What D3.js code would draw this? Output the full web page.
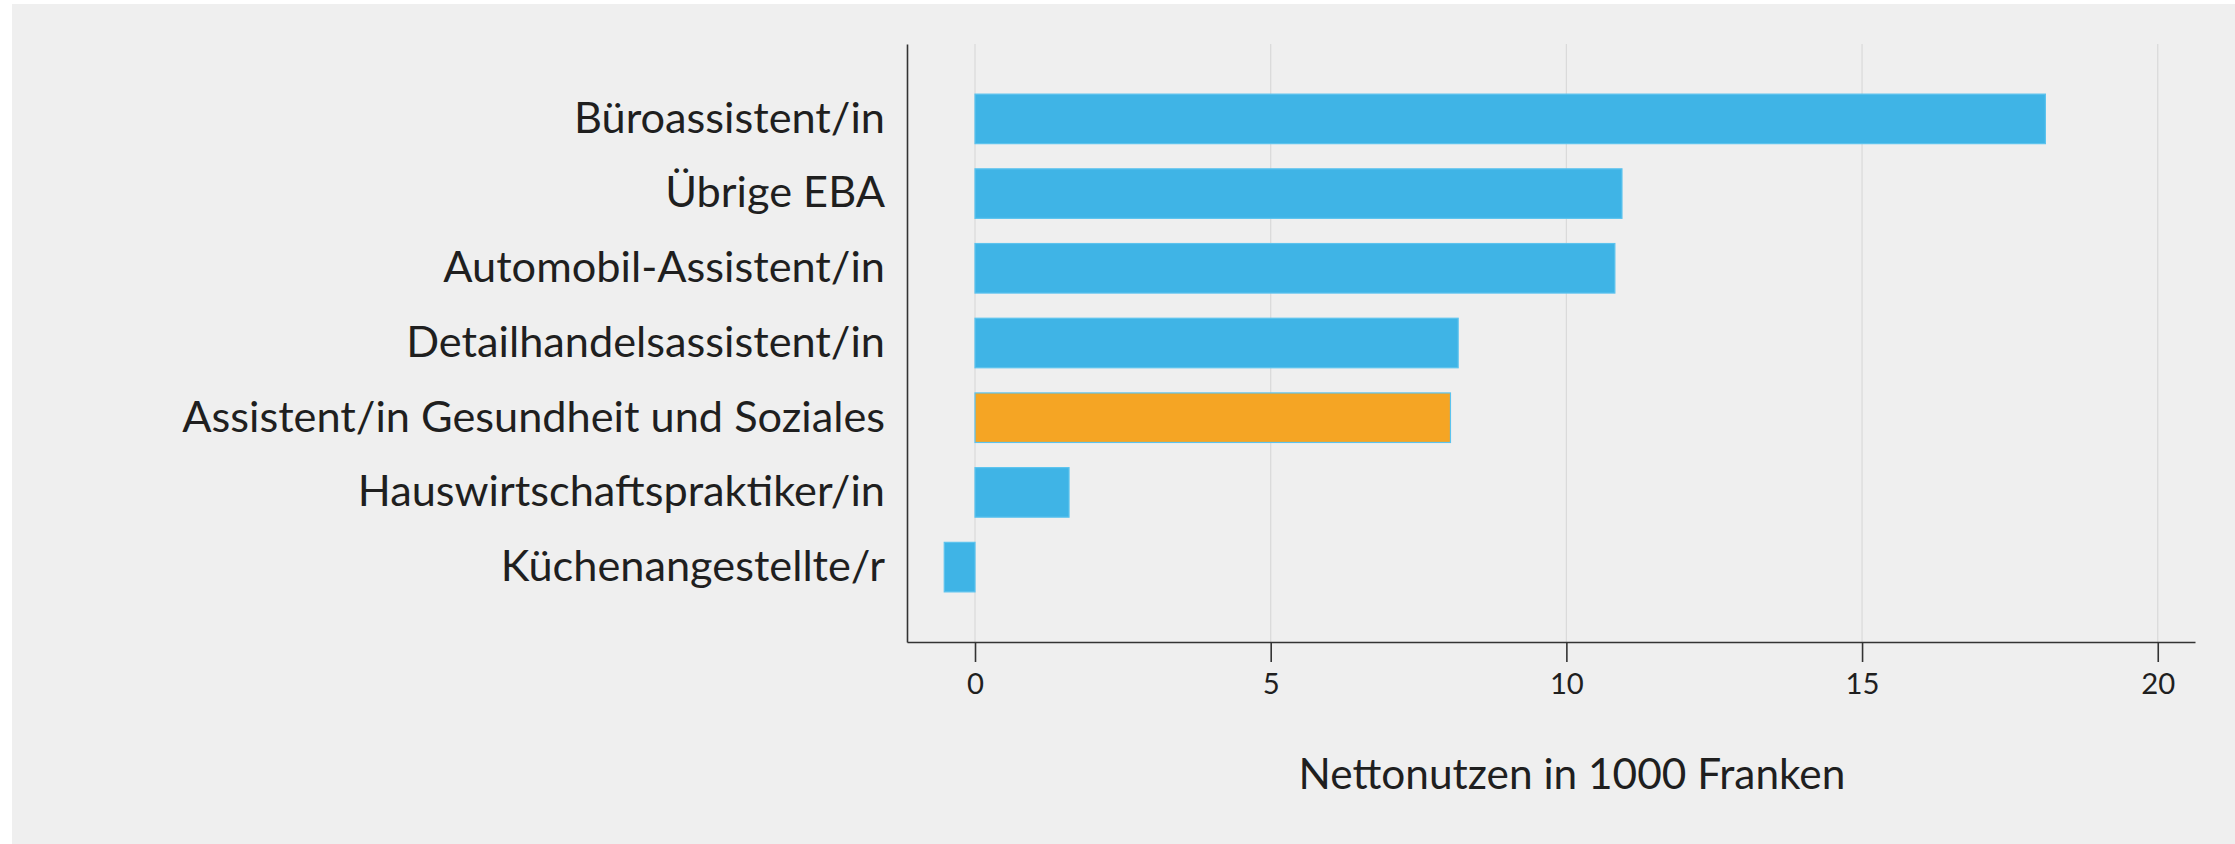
<!DOCTYPE html>
<html>
<head>
<meta charset="utf-8">
<script src="https://cdn.jsdelivr.net/npm/d3@7"></script>
<style>
  html, body { margin: 0; padding: 0; background: #ffffff; }
  svg { display: block; }
  text { font-family: Lato, "Open Sans", sans-serif; fill: #1f1f1f; }
</style>
</head>
<body>
<svg id="chart" width="2235" height="844"></svg>
<script>
// ---- data ----
const categories = [
  "Büroassistent/in",
  "Übrige EBA",
  "Automobil-Assistent/in",
  "Detailhandelsassistent/in",
  "Assistent/in Gesundheit und Soziales",
  "Hauswirtschaftspraktiker/in",
  "Küchenangestellte/r"
];
const values = [18.1, 10.94, 10.82, 8.17, 8.04, 1.59, -0.52];
const highlightCategory = "Assistent/in Gesundheit und Soziales";
const xTicks = [0, 5, 10, 15, 20];
const xAxisTitle = "Nettonutzen in 1000 Franken";

// ---- layout ----
const W = 2235, H = 844;
const plotLeft = 907, plotRight = 2195, plotTop = 44, plotBottom = 642;

const svg = d3.select("#chart");

svg.append("rect").attr("x", 12).attr("y", 4)
  .attr("width", W - 12).attr("height", H - 4).attr("fill", "#efefef");

const x = d3.scaleLinear().domain([-1.15, 20.63]).range([plotLeft, plotRight]);
const y = d3.scaleBand().domain(categories).range([plotTop, plotBottom])
  .paddingInner(0.337).paddingOuter(0.671);

function fitSize(sample, target, base) {
  const t = svg.append("text").attr("font-size", base).text(sample);
  const w = t.node().getComputedTextLength();
  t.remove();
  return base * target / w;
}
const labelSize = fitSize("Assistent/in Gesundheit und Soziales", 703, 30);
const titleSize = fitSize(xAxisTitle, 547, 30);
const tickSize = fitSize("10", 34, 30);

// gridlines
svg.append("g").selectAll("line").data(xTicks).join("line")
  .attr("x1", d => x(d)).attr("x2", d => x(d))
  .attr("y1", plotTop).attr("y2", plotBottom)
  .attr("stroke", "#d9d9d9").attr("stroke-width", 1.2);

// bars
svg.append("g").selectAll("rect").data(categories).join("rect")
  .attr("x", (d, i) => x(Math.min(0, values[i])))
  .attr("width", (d, i) => Math.abs(x(values[i]) - x(0)))
  .attr("y", d => y(d))
  .attr("height", y.bandwidth())
  .attr("fill", d => d === highlightCategory ? "#f5a524" : "#3fb4e6")
  .attr("stroke", "#5cc3ee").attr("stroke-width", 1.2);

// x axis
const xAxis = d3.axisBottom(x).tickValues(xTicks).tickSizeInner(20).tickSizeOuter(0).tickPadding(11)
  .tickFormat(d3.format("d"));
const gx = svg.append("g").attr("transform", `translate(0,${plotBottom})`).call(xAxis);
gx.select(".domain").attr("stroke", "#333").attr("stroke-width", 1.6);
gx.selectAll(".tick line").attr("stroke", "#333").attr("stroke-width", 1.6);
gx.selectAll(".tick text").attr("font-size", tickSize).attr("font-family", "Lato, 'Open Sans', sans-serif")
  .attr("fill", "#1f1f1f");

// y axis
const yAxis = d3.axisLeft(y).tickSize(0).tickPadding(22);
const gy = svg.append("g").attr("transform", `translate(${plotLeft},0)`).call(yAxis);
gy.select(".domain").attr("stroke", "#333").attr("stroke-width", 1.6);
gy.selectAll(".tick text").attr("font-size", labelSize).attr("font-family", "Lato, 'Open Sans', sans-serif")
  .attr("fill", "#1f1f1f");

// axis title
svg.append("text").attr("x", 1572).attr("y", 789)
  .attr("text-anchor", "middle").attr("font-size", titleSize)
  .text(xAxisTitle);
</script>
</body>
</html>
